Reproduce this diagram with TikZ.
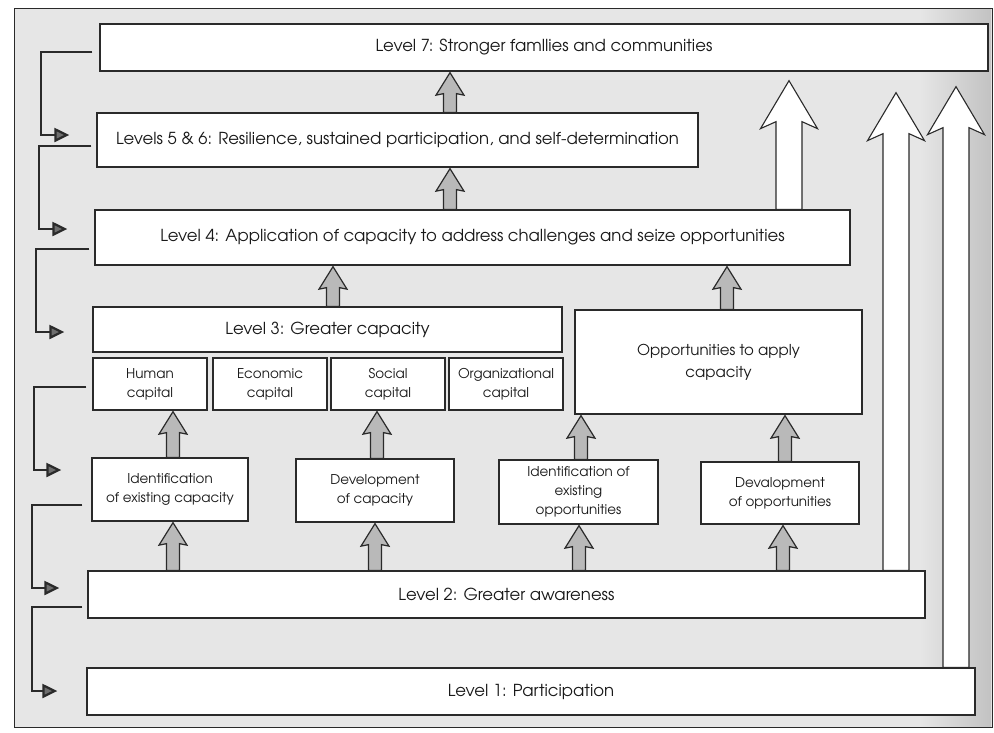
\documentclass[tikz,border=0pt]{standalone}
\usepackage{fontspec}
\setmainfont{TeX Gyre Adventor}
\usetikzlibrary{arrows.meta,calc}

\definecolor{ink}{HTML}{2A2A2A}
\definecolor{paper}{HTML}{E6E6E6}
\definecolor{shade}{HTML}{C2C2C2}
\definecolor{stemgray}{HTML}{B9B9B9}
\definecolor{tipgray}{HTML}{6E6E6E}

\newcommand\mainsize{\fontsize{16.5}{20}\selectfont}
\newcommand\smallsize{\fontsize{13.5}{19}\selectfont}
\newcommand\oppsize{\fontsize{15}{22}\selectfont}

% Block arrow pointing up from the top of node #3 to just under node #4.
% #1 style, #2 x position, #5 gap under #4, #6 half shaft, #7 half head,
% #8 head length at the shaft, #9 head length at the barbs.
\newcommand\blockarrow[9]{%
  \coordinate (ba-x) at (#2,0);
  \coordinate (ba-s) at (#3.north -| ba-x);
  \coordinate (ba-t) at ($(#4.south -| ba-x)+(0,#5)$);
  \draw[#1] ($(ba-s)+(-#6,0)$) -- ($(ba-t)+(-#6,#8)$) -- ($(ba-t)+(-#7,#9)$)
    -- (ba-t) -- ($(ba-t)+(#7,#9)$) -- ($(ba-t)+(#6,#8)$) -- ($(ba-s)+(#6,0)$) -- cycle;}
\newcommand\smallup[3]{\blockarrow{stem}{#1}{#2}{#3}{1}{6.5}{14}{21}{22.5}}
\newcommand\bigup[4]{\blockarrow{bigstem}{#1}{#2}{#3}{#4}{13}{28.5}{41}{48}}

\tikzset{
  box/.style={draw=ink, fill=white, line width=1.3pt, inner sep=0pt,
    align=center, text=black!90, font=\mainsize},
  capbox/.style={box, font=\smallsize},
  oppbox/.style={box, font=\oppsize},
  span/.style args={#1/#2/#3/#4}{minimum width={(#3-#1)*1pt},
    minimum height={(#4-#2)*1pt}, at={({(#1+#3)/2},{(#2+#4)/2})}},
  frame/.style={draw=ink, line width=1pt, fill=paper},
  stem/.style={draw=ink, line width=1.2pt, fill=stemgray, line join=miter},
  bigstem/.style={draw=ink, line width=1.1pt, fill=white, line join=miter},
  fb/.style={draw=ink, line width=2.2pt,
    -{Triangle[length=15pt,width=14pt,fill=tipgray]}},
}

\begin{document}
\begin{tikzpicture}[x=1pt,y=-1pt]
\useasboundingbox (0,0) rectangle (994,732);

% page and shadow at the right edge
\draw[frame] (14,8) rectangle (992,727);
\fill[left color=paper, right color=shade] (920,9) rectangle (991,726);

% levels
\node[box, span=100/24/988/71] (L7) {Level 7: Stronger famllies and communities};
\node[box, span=97/113/698/167] (L56) {Levels 5 \& 6: Resilience, sustained participation, and self-determination};
\node[box, span=95/210/850/265] (L4) {Level 4: Application of capacity to address challenges and seize opportunities};
\node[box, span=93/307/562/352] (L3) {Level 3: Greater capacity};

% kinds of capital
\node[capbox, span=93/358/207/410] (hum) {Human\\capital};
\node[capbox, span=213/358/327/410] (eco) {Economic\\capital};
\node[capbox, span=331/358/445/410] (soc) {Social\\capital};
\node[capbox, span=449/358/563/410] (org) {Organizational\\capital};
\node[oppbox, span=575/310/862/414] (opp) {Opportunities to apply\\capacity};

% activities
\node[capbox, span=92/458/248/521] (idcap) {Identification\\of existing capacity};
\node[capbox, span=296/459/454/522] (devcap) {Development\\of capacity};
\node[capbox, span=499/460/658/524] (idopp) {Identification of\\existing\\opportunities};
\node[capbox, span=701/462/859/524] (devopp) {Devalopment\\of opportunities};

\node[box, span=88/571/925/618] (L2) {Level 2: Greater awareness};
\node[box, span=87/668/975/715] (L1) {Level 1: Participation};

% upward flow
\smallup{450}{L56}{L7}
\smallup{450}{L4}{L56}
\smallup{333}{L3}{L4}
\smallup{727}{opp}{L4}
\smallup{173}{idcap}{hum}
\smallup{377}{devcap}{soc}
\smallup{581}{idopp}{opp}
\smallup{785}{devopp}{opp}
\smallup{173}{L2}{idcap}
\smallup{375}{L2}{devcap}
\smallup{579}{L2}{idopp}
\smallup{783}{L2}{devopp}

\bigup{789}{L4}{L7}{9}
\bigup{896}{L2}{L7}{21}
\bigup{956}{L1}{L7}{15}

% feedback loops on the left
\coordinate (f1a) at ($(L7.west)+(-7,4.5)$);
\coordinate (f1b) at ($(L56.west)+(-27,-5)$);
\draw[fb] (f1a) -- ++(-51,0) |- (f1b);
\coordinate (f2a) at ($(L56.west)+(-5,6)$);
\coordinate (f2b) at ($(L4.west)+(-27,-8.5)$);
\draw[fb] (f2a) -- ++(-52,0) |- (f2b);
\coordinate (f3a) at ($(L4.west)+(-5,11.5)$);
\coordinate (f3b) at ($(L3.west)+(-28,2.5)$);
\draw[fb] (f3a) -- ++(-53,0) |- (f3b);
\coordinate (f4a) at ($(hum.west)+(-6,3)$);
\coordinate (f4b) at ($(idcap.west)+(-30,-19.5)$);
\draw[fb] (f4a) -- ++(-52,0) |- (f4b);
\coordinate (f5a) at ($(idcap.west)+(-9,15.5)$);
\coordinate (f5b) at ($(L2.west)+(-28,-6.5)$);
\draw[fb] (f5a) -- ++(-50,0) |- (f5b);
\coordinate (f6a) at ($(L2.west)+(-5,12.5)$);
\coordinate (f6b) at ($(L1.west)+(-29,-0.5)$);
\draw[fb] (f6a) -- ++(-50,0) |- (f6b);
\end{tikzpicture}
\end{document}
